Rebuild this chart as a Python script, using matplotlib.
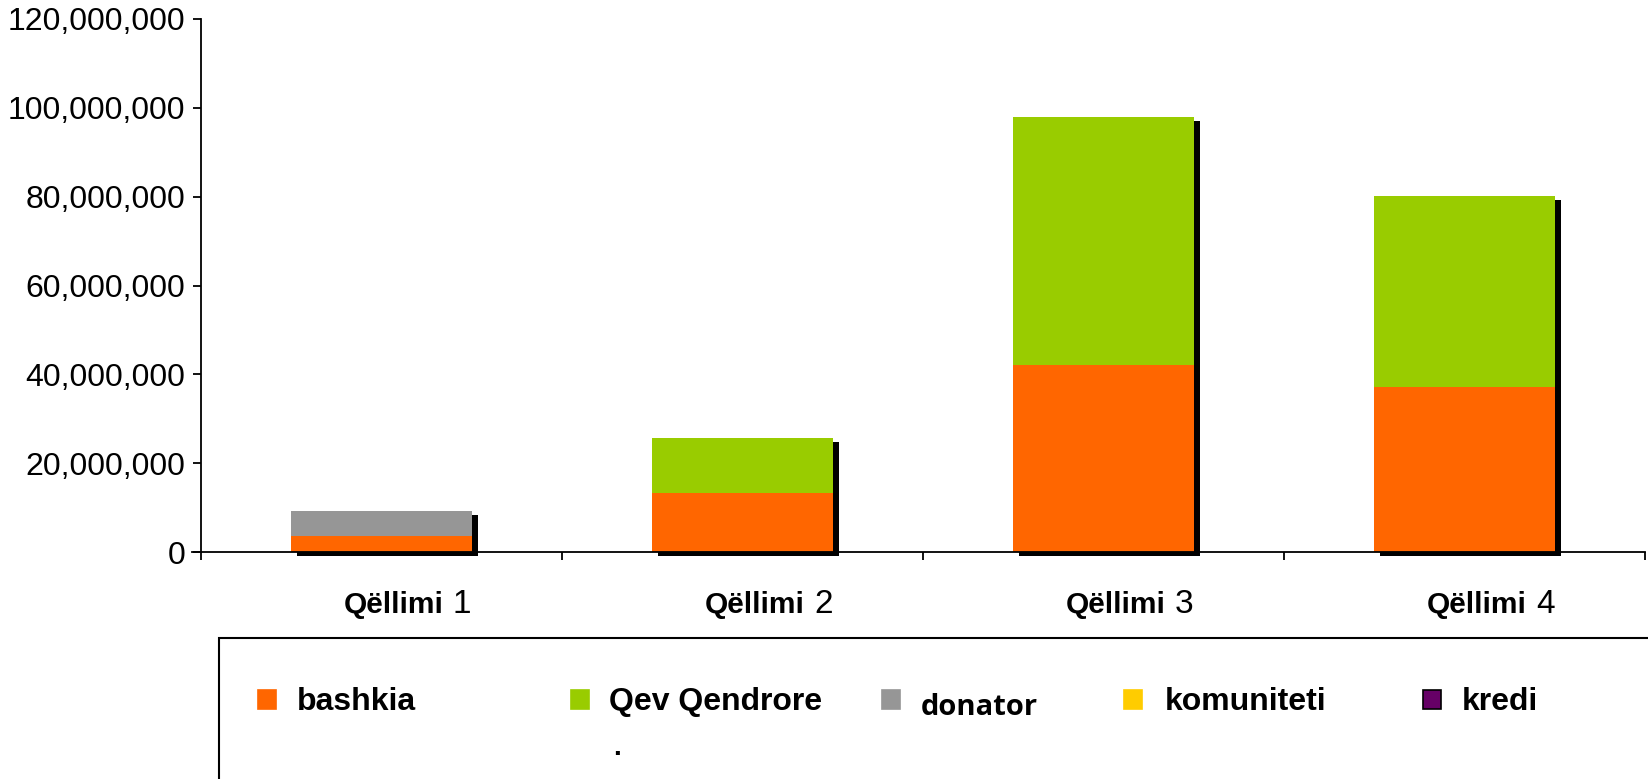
import numpy as np
import matplotlib
matplotlib.use('Agg')
import matplotlib.pyplot as plt
from matplotlib.patches import Rectangle
from matplotlib.ticker import FuncFormatter
from matplotlib.transforms import ScaledTranslation, blended_transform_factory

plt.rcParams['font.family'] = ['Liberation Sans', 'DejaVu Sans']

# Data
categories = ['1', '2', '3', '4']
bashkia = [3.6e6, 13.3e6, 42.2e6, 37.2e6]
qev_qendrore = [0, 12.4e6, 55.8e6, 43.0e6]
donator = [5.6e6, 0, 0, 0]
komuniteti = [0, 0, 0, 0]
kredi = [0, 0, 0, 0]

series_names = ['bashkia', 'Qev Qendrore', 'donator', 'komuniteti', 'kredi']
colors = ['#FF6600', '#99CC00', '#969696', '#FFCC00', '#660066']

W, H = 1648, 779
fig = plt.figure(figsize=(W / 100, H / 100), dpi=100)
ax = fig.add_axes([192 / W, 1 - 552 / H, (1645 - 192) / W, (552 - 19) / H])

x = np.arange(len(categories))
series = [bashkia, qev_qendrore, donator, komuniteti, kredi]
totals = np.sum(np.array(series), axis=0)

# black drop shadow behind each column
shadow = ax.bar(x, totals, 0.5, color='black', zorder=1.5, clip_on=False)
offset = ScaledTranslation(6 / 100, -4 / 100, fig.dpi_scale_trans)
for p in shadow:
    p.set_transform(ax.transData + offset)

bottom = np.zeros(len(categories))
for vals, c in zip(series, colors):
    ax.bar(x, vals, 0.5, bottom=bottom, color=c, zorder=2, clip_on=False)
    bottom += np.array(vals)

ax.set_xlim(-0.525, 3.5)
ax.set_ylim(0, 120e6)
for s in ['top', 'right']:
    ax.spines[s].set_visible(False)
ax.spines['left'].set_position(('data', -0.5))
ax.spines['left'].set_linewidth(1.3)
ax.spines['bottom'].set_linewidth(1.3)

ax.set_yticks(np.arange(0, 120e6 + 1, 20e6))
ax.yaxis.set_major_formatter(FuncFormatter(lambda v, pos: '{:,.0f}'.format(v)))
ax.tick_params(axis='y', direction='out', length=5.8, width=1.3, pad=5.5, labelsize=23)
ax.set_xticks([-0.5, 0.5, 1.5, 2.5, 3.5])
ax.set_xticklabels([])
ax.tick_params(axis='x', direction='out', length=5.8, width=1.3)

# category labels: bold word + regular number
trans = blended_transform_factory(ax.transData, ax.transAxes)
for i, c in enumerate(categories):
    ax.text(i + 0.173, -0.1144, 'Qëllimi', ha='right', va='baseline',
            weight='bold', size=21.5, transform=trans)
    ax.text(i + 0.198, -0.1144, c, ha='left', va='baseline',
            size=24, transform=trans)

# legend box (cut off at the bottom/right edge)
fig.patches.append(Rectangle((219 / W, -0.1), 1.0, 0.1 + 1 - 638 / H,
                             transform=fig.transFigure, fill=False,
                             edgecolor='black', linewidth=1.5))

marker_x = [258, 571, 882, 1124, 1423]
text_x = [297, 609, 921, 1165, 1462]
for i, (name, c) in enumerate(zip(series_names, colors)):
    ec = 'black' if name == 'kredi' else c
    fig.patches.append(Rectangle((marker_x[i] / W, 1 - 709 / H), 18 / W, 19 / H,
                                 transform=fig.transFigure, facecolor=c,
                                 edgecolor=ec, linewidth=1.2))
    if name == 'donator':
        fig.text(text_x[i] / W, 1 - 715 / H, name, ha='left', va='baseline',
                 weight='bold', size=21, family=['Open Sans', 'DejaVu Sans'])
    else:
        fig.text(text_x[i] / W, 1 - 710 / H, name, ha='left', va='baseline',
                 weight='bold', size=23)
fig.text(613 / W, 1 - 755 / H, '.', ha='left', va='baseline', weight='bold', size=20)

fig.savefig('out.png', dpi=100)
